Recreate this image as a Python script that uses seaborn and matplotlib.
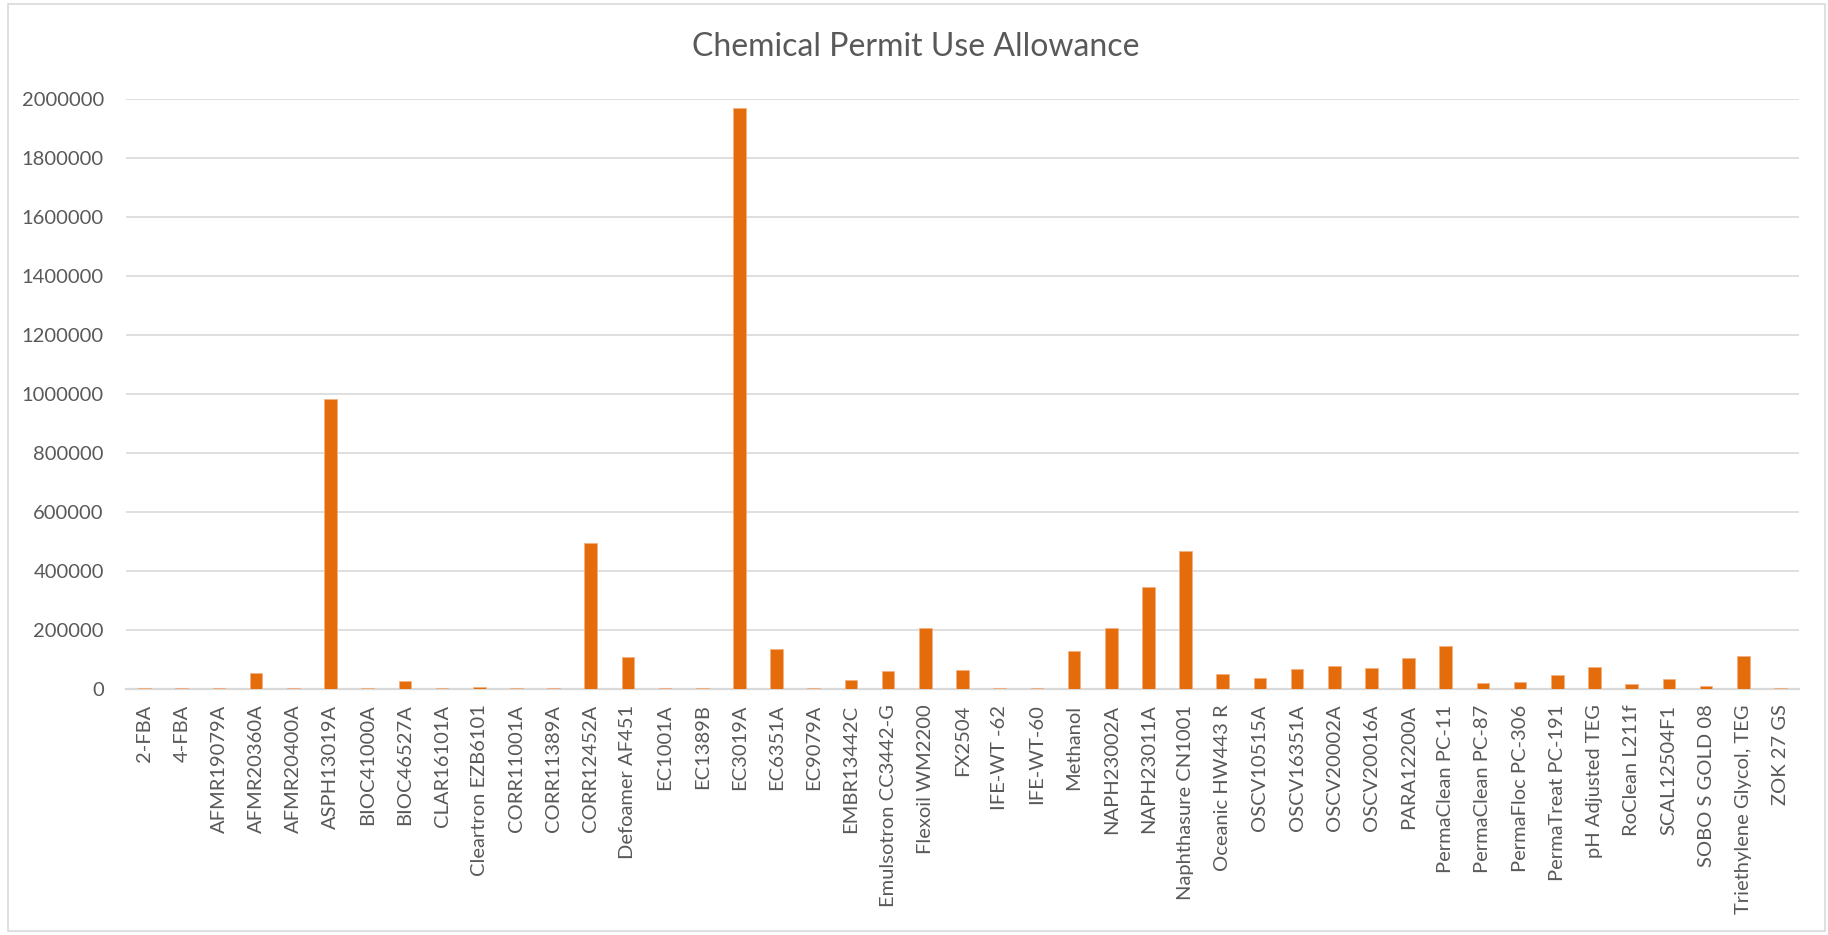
import matplotlib
matplotlib.use("Agg")
import matplotlib.pyplot as plt
import matplotlib.ticker as mticker
import pandas as pd
import seaborn as sns

# chemicals on the x axis, in the order they are drawn
chemicals = ['2-FBA', '4-FBA', 'AFMR19079A', 'AFMR20360A', 'AFMR20400A',
             'ASPH13019A', 'BIOC41000A', 'BIOC46527A', 'CLAR16101A',
             'Cleartron EZB6101', 'CORR11001A', 'CORR11389A', 'CORR12452A',
             'Defoamer AF451', 'EC1001A', 'EC1389B', 'EC3019A', 'EC6351A',
             'EC9079A', 'EMBR13442C', 'Emulsotron CC3442-G', 'Flexoil WM2200',
             'FX2504', 'IFE-WT -62', 'IFE-WT-60', 'Methanol', 'NAPH23002A',
             'NAPH23011A', 'Naphthasure CN1001', 'Oceanic HW443 R',
             'OSCV10515A', 'OSCV16351A', 'OSCV20002A', 'OSCV20016A',
             'PARA12200A', 'PermaClean PC-11', 'PermaClean PC-87',
             'PermaFloc PC-306', 'PermaTreat PC-191', 'pH Adjusted TEG',
             'RoClean L211f', 'SCAL12504F1', 'SOBO S GOLD 08',
             'Triethylene Glycol, TEG', 'ZOK 27 GS']

# permit use allowance per chemical
allowance = [4000, 4000, 4000, 56000, 5000,
             984000, 4500, 27000, 5000,
             8500, 4000, 5000, 495000,
             110000, 4000, 5000, 1970000, 138000,
             4000, 30500, 61000, 206000,
             66500, 4000, 4000, 131000, 206000,
             345000, 470000, 51000,
             37500, 68000, 78000, 72000,
             105000, 145500, 20500,
             25000, 48500, 75500,
             17000, 34000, 12000,
             113000, 4000]

yticks = list(range(0, 2000001, 200000))

df = pd.DataFrame({'chemical': chemicals, 'allowance': allowance})

sns.set_theme(style='white')
plt.rcParams['font.family'] = ['Lato', 'DejaVu Sans']

text_grey = '#595959'
grid_grey = '#D9D9D9'
bar_orange = '#E46C0A'

fig = plt.figure(figsize=(18.28, 9.35), dpi=100)
ax = fig.add_axes([126 / 1828, 1 - 689.3 / 935, (1799 - 126) / 1828, (689.3 - 98.7) / 935])

sns.barplot(data=df, x='chemical', y='allowance', order=chemicals,
            color=bar_orange, saturation=1, width=0.34,
            edgecolor='#F4B183', linewidth=0.6, ax=ax, zorder=3)

ax.set_ylim(0, 2000000)
ax.set_xlim(-0.5, len(chemicals) - 0.5)
ax.set_yticks(yticks)
ax.yaxis.set_major_formatter(mticker.FuncFormatter(lambda v, p: f'{int(v)}'))
ax.grid(axis='y', color=grid_grey, linewidth=1.2)
ax.set_axisbelow(True)
for s in ['top', 'right', 'left']:
    ax.spines[s].set_visible(False)
ax.spines['bottom'].set_color(grid_grey)
ax.spines['bottom'].set_linewidth(1.6)
ax.spines['bottom'].set_zorder(1)

ax.set_xlabel('')
ax.set_ylabel('')
ax.tick_params(axis='y', length=0, pad=16, labelsize=14.5, labelcolor=text_grey)
ax.tick_params(axis='x', length=0, pad=11, labelsize=14.5, labelcolor=text_grey,
               labelrotation=90)

fig.text(916 / 1828, 1 - 47 / 935, 'Chemical Permit Use Allowance',
         ha='center', va='center', fontsize=23, color=text_grey)

# light frame round the whole chart area
frame = plt.Rectangle((8 / 1828, 4 / 935), (1825 - 8) / 1828, (931 - 4) / 935,
                      transform=fig.transFigure, fill=False,
                      edgecolor=grid_grey, linewidth=1.2)
fig.patches.append(frame)

fig.savefig('out.png', dpi=100, facecolor='white')
